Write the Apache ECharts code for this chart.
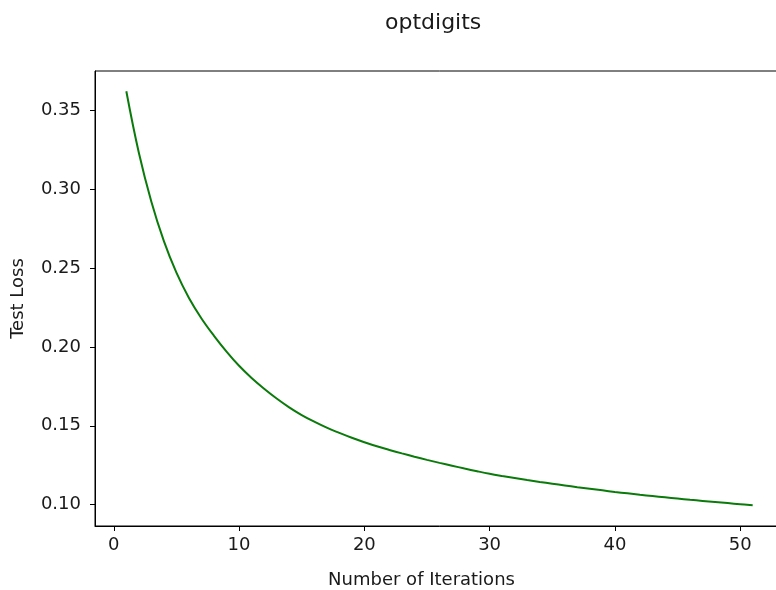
<!DOCTYPE html>
<html>
<head>
<meta charset="utf-8">
<script src="https://cdn.jsdelivr.net/npm/echarts@6/dist/echarts.min.js"></script>
<style>
    html, body { margin: 0; padding: 0; background: #fff; overflow: hidden; }
    #chart { width: 800px; height: 590px; }
</style>
</head>
<body>
<div id="chart"></div>
<script>
// iterations 1..51 and test loss
var iterations = [];
for (var i = 1; i <= 51; i++) iterations.push(i);
var testLoss = [
    0.362, 0.323, 0.292, 0.267, 0.247, 0.231, 0.218, 0.207, 0.197, 0.188,
    0.1803, 0.1735, 0.1673, 0.1617, 0.1568, 0.1526, 0.1488, 0.1455, 0.1424, 0.1396,
    0.137, 0.1347, 0.1325, 0.1304, 0.1284, 0.1265, 0.1247, 0.1229, 0.1212, 0.1196,
    0.1182, 0.1169, 0.1156, 0.1144, 0.1133, 0.1122, 0.1111, 0.1101, 0.1091, 0.1081,
    0.1072, 0.1063, 0.1055, 0.1047, 0.1039, 0.1031, 0.1024, 0.1017, 0.101, 0.1003,
    0.0996
];
var xTicks = [0, 10, 20, 30, 40, 50];
var yTicks = [0.10, 0.15, 0.20, 0.25, 0.30, 0.35];

var font = "DejaVu Sans";
var textColor = "#1a1a1a";

var chart = echarts.init(document.getElementById("chart"));
chart.setOption({
    animation: false,
    backgroundColor: "#fff",
    title: {
        text: "optdigits",
        left: 380,
        top: 7,
        textStyle: {
            fontFamily: font,
            fontSize: 22,
            fontWeight: "normal",
            color: textColor
        }
    },
    grid: {
        left: 95,
        top: 71,
        width: 689,
        height: 455,
        show: true,
        borderColor: "#000",
        borderWidth: 1,
        containLabel: false,
        outerBoundsMode: "none"
    },
    xAxis: {
        type: "value",
        min: -1.5,
        max: 53.5,
        name: "Number of Iterations",
        nameLocation: "middle",
        nameGap: 45,
        nameTextStyle: {
            fontFamily: font,
            fontSize: 18,
            color: textColor,
            padding: [0, 36, 0, 0]
        },
        axisLine: { show: true, onZero: false, lineStyle: { color: "#000", width: 1 } },
        axisTick: {
            show: true,
            length: 5,
            customValues: xTicks,
            lineStyle: { color: "#000", width: 1 }
        },
        axisLabel: {
            customValues: xTicks,
            margin: 10,
            fontFamily: font,
            fontSize: 18,
            color: textColor
        },
        splitLine: { show: false }
    },
    yAxis: {
        type: "value",
        min: 0.0865,
        max: 0.3748,
        name: "Test Loss",
        nameLocation: "middle",
        nameGap: 68,
        nameTextStyle: {
            fontFamily: font,
            fontSize: 18,
            color: textColor
        },
        axisLine: { show: true, onZero: false, lineStyle: { color: "#000", width: 1 } },
        axisTick: {
            show: true,
            length: 5,
            customValues: yTicks,
            lineStyle: { color: "#000", width: 1 }
        },
        axisLabel: {
            customValues: yTicks,
            margin: 14,
            fontFamily: font,
            fontSize: 18,
            color: textColor,
            formatter: function (v) { return v.toFixed(2); }
        },
        splitLine: { show: false }
    },
    series: [
        {
            type: "line",
            data: iterations.map(function (x, k) { return [x, testLoss[k]]; }),
            showSymbol: false,
            smooth: 0.4,
            lineStyle: { color: "#0a7a0a", width: 2 },
            silent: true
        }
    ]
});
</script>
</body>
</html>
